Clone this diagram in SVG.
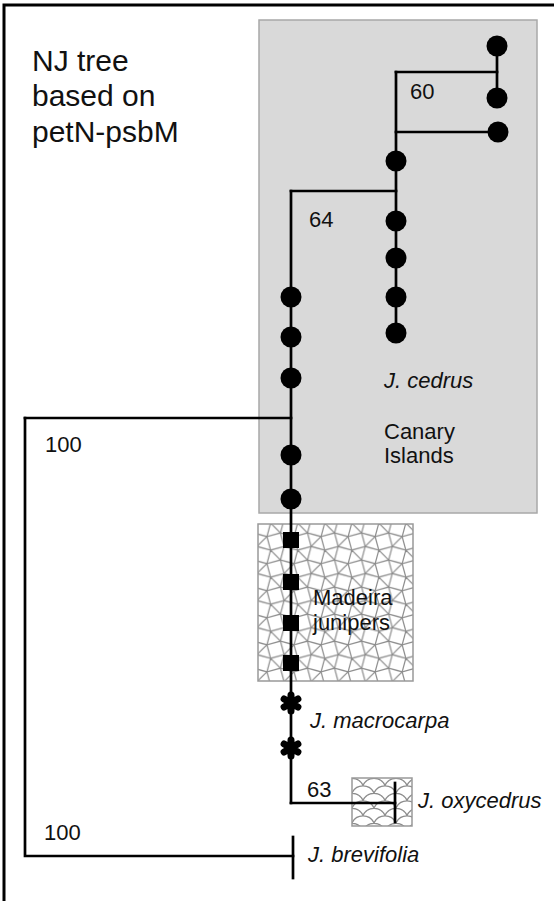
<svg xmlns="http://www.w3.org/2000/svg" width="554" height="901" viewBox="0 0 554 901">
<defs>
<style>
.edge{fill:none;stroke:#000;stroke-width:2.7;stroke-linecap:square}
.dot{fill:#000}
.sq{fill:#000}
.ast{stroke:#000;stroke-width:7;stroke-linecap:round}
.t{font-family:"Liberation Sans",Arial,Helvetica,sans-serif;fill:#111}
.lbl{font-size:22px}
.it{font-style:italic}
.title{font-size:30px}
.pat{fill:none;stroke:#8c8c8c;stroke-width:1.2}
</style>
<g id="snubcell">
<path class="pat" d="M4.95,8.573 L-8.573,4.95 L-4.95,-8.573 L8.573,-4.95 Z M22.10,18.47 L8.573,22.10 L4.95,8.573 L18.47,4.95 Z M8.573,-4.95 L18.47,4.95 M4.95,8.573 L-4.95,18.47"/>
</g>
<pattern id="snub" patternUnits="userSpaceOnUse" x="262" y="528" width="27.05" height="27.05">
<rect width="27.05" height="27.05" fill="#fff"/>
<use href="#snubcell"/>
<use href="#snubcell" x="27.05"/>
<use href="#snubcell" y="27.05"/>
<use href="#snubcell" x="27.05" y="27.05"/>
<use href="#snubcell" x="-27.05"/>
<use href="#snubcell" y="-27.05"/>
<use href="#snubcell" x="-27.05" y="-27.05"/>
<use href="#snubcell" x="27.05" y="-27.05"/>
<use href="#snubcell" x="-27.05" y="27.05"/>
</pattern>
<pattern id="scales" patternUnits="userSpaceOnUse" x="352" y="778" width="22" height="15">
<rect width="22" height="15" fill="#fff"/>
<path class="pat" d="M0,15 A12,12 0 0 1 22,15 M-11,7.5 A12,12 0 0 1 11,7.5 M11,7.5 A12,12 0 0 1 33,7.5 M0,0 A12,12 0 0 1 22,0"/>
</pattern>
</defs>
<rect width="554" height="901" fill="#fff"/>
<path d="M4,901 V5 H554" fill="none" stroke="#000" stroke-width="3"/>

<g id="canary-region"><rect x="259" y="20" width="278" height="493" fill="#d9d9d9" stroke="#a8a8a8" stroke-width="1.5"/></g>
<g id="madeira-region"><rect x="258" y="524" width="155" height="157" fill="url(#snub)" stroke="#999" stroke-width="1.5"/></g>
<g id="oxycedrus-region"><rect x="352" y="778" width="60" height="48" fill="url(#scales)" stroke="#999" stroke-width="1.5"/></g>

<g id="connectors">
<path class="edge" d="M497,46 V98"/>
<path class="edge" d="M396,72 H497"/>
<path class="edge" d="M396,72 V333"/>
<path class="edge" d="M396,132 H498"/>
<path class="edge" d="M291,191 H396"/>
<path class="edge" d="M291,191 V803"/>
<path class="edge" d="M25,418 H291"/>
<path class="edge" d="M25,418 V856 H293"/>
<path class="edge" d="M293,837 V878"/>
<path class="edge" d="M291,803 H395"/>
<path class="edge" d="M395,783 V822"/>
</g>

<g id="cedrus-nodes">
<circle class="dot" cx="497" cy="46" r="10.5"/>
<circle class="dot" cx="497" cy="98" r="10.5"/>
<circle class="dot" cx="498" cy="132" r="10.5"/>
<circle class="dot" cx="396" cy="161" r="10.5"/>
<circle class="dot" cx="396" cy="221" r="10.5"/>
<circle class="dot" cx="396" cy="258" r="10.5"/>
<circle class="dot" cx="396" cy="297" r="10.5"/>
<circle class="dot" cx="396" cy="333" r="10.5"/>
<circle class="dot" cx="291" cy="297" r="10.5"/>
<circle class="dot" cx="291" cy="337" r="10.5"/>
<circle class="dot" cx="291" cy="378" r="10.5"/>
<circle class="dot" cx="291" cy="455" r="10.5"/>
<circle class="dot" cx="291" cy="499" r="10.5"/>
</g>

<g id="madeira-nodes">
<rect class="sq" x="283" y="532" width="16" height="16"/>
<rect class="sq" x="283" y="574" width="16" height="16"/>
<rect class="sq" x="283" y="615" width="16" height="16"/>
<rect class="sq" x="283" y="655" width="16" height="16"/>
</g>

<g id="macrocarpa-nodes">
<path class="ast" d="M291,695 V711 M284.1,699 L297.9,707 M284.1,707 L297.9,699"/>
<path class="ast" d="M291,740 V756 M284.1,744 L297.9,752 M284.1,752 L297.9,744"/>
</g>

<g id="title"><text class="t title" x="32" y="71">NJ tree</text><text class="t title" x="32" y="106">based on</text><text class="t title" x="32" y="142">petN-psbM</text></g>

<g id="support-labels">
<text class="t lbl" x="410" y="99">60</text>
<text class="t lbl" x="309" y="227">64</text>
<text class="t lbl" x="45" y="452">100</text>
<text class="t lbl" x="44" y="840">100</text>
<text class="t lbl" x="307" y="797">63</text>
</g>

<g id="taxon-labels">
<text class="t lbl it" x="384" y="388">J. cedrus</text>
<text class="t lbl" x="384" y="439">Canary</text>
<text class="t lbl" x="384" y="463">Islands</text>
<text class="t lbl" x="313" y="605">Madeira</text>
<text class="t lbl" x="313" y="630">junipers</text>
<text class="t lbl it" x="310" y="728">J. macrocarpa</text>
<text class="t lbl it" x="418" y="808">J. oxycedrus</text>
<text class="t lbl it" x="308" y="862">J. brevifolia</text>
</g>
</svg>
